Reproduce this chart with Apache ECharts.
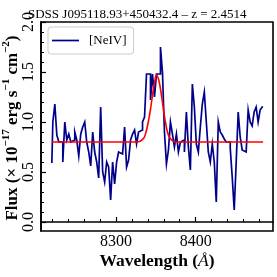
<!DOCTYPE html>
<html><head><meta charset="utf-8">
<script src="https://cdn.jsdelivr.net/npm/echarts@6/dist/echarts.min.js"></script>
<style>html,body{margin:0;padding:0;background:#fff}#c{width:277px;height:277px}</style>
</head><body><div id="c"></div>
<script>
const wavelength = [8219.6,8222.1,8224.6,8227.1,8229.6,8232.1,8234.6,8237.1,8239.6,8242.1,
8244.6,8247.1,8249.6,8252.1,8254.6,8257.1,8259.6,8262.1,8264.6,8267.1,
8269.6,8272.1,8274.6,8277.1,8279.6,8282.1,8284.6,8287.1,8289.6,8292.1,
8294.6,8297.1,8299.6,8302.1,8304.6,8307.1,8309.6,8312.1,8314.6,8317.1,
8319.6,8322.1,8324.6,8327.1,8329.6,8332.1,8334.6,8337.1,8339.6,8342.1,
8344.6,8347.1,8349.6,8352.1,8354.6,8357.1,8359.6,8362.1,8364.6,8367.1,
8369.6,8372.1,8374.6,8377.1,8379.6,8382.1,8384.6,8387.1,8389.6,8392.1,
8394.6,8397.1,8399.6,8402.1,8404.6,8407.1,8409.6,8412.1,8414.6,8417.1,
8419.6,8422.1,8424.6,8427.1,8429.6,8432.1,8434.6,8437.1,8439.6,8442.1,
8444.6,8447.1,8449.6,8452.1,8454.6,8457.1,8459.6,8462.1,8464.6,8467.1,
8469.6,8472.1,8474.6,8477.1,8479.6,8482.1,8484.6];
const flux = [0.59,1.0,1.18,0.87,0.8,0.8,0.6,1.0,0.82,0.88,
0.8,0.82,0.9,0.82,0.66,0.88,0.95,1.0,0.8,0.7,
0.56,0.9,0.7,0.6,0.44,1.15,0.5,0.4,0.6,0.55,
0.22,0.6,0.38,0.6,0.7,0.68,0.66,0.95,0.55,0.62,
0.82,0.88,0.92,0.78,0.9,0.92,1.0,1.05,1.48,1.48,
1.22,1.48,1.25,1.48,1.48,1.75,1.5,0.9,0.58,0.72,
1.0,0.88,0.75,0.88,0.7,0.8,0.82,0.7,1.1,0.75,
0.52,1.38,1.15,0.78,0.7,0.95,1.18,1.3,1.0,0.7,
0.6,0.78,0.6,0.2,1.0,0.9,0.87,0.83,0.8,0.8,
0.74,0.45,0.12,0.6,1.1,0.85,0.72,0.7,0.72,1.12,
1.0,0.96,1.1,1.15,1.0,1.12,1.15];
const fitWavelength = [8219.6,8326,8331,8335,8337,8339,8341,8343,8345,8347,8349,8350.8,8353,8355,8357,8359,8361,8363,8365,8367,8370,8375,8484.6];
const fitFlux = [0.8,0.8,0.81,0.84,0.88,0.94,1.02,1.11,1.22,1.33,1.42,1.47,1.44,1.37,1.27,1.16,1.05,0.96,0.89,0.85,0.82,0.8,0.8];
const xMajorTicks = [8300, 8400];
const xMinorTicks = [8220,8240,8260,8280,8320,8340,8360,8380,8420,8440,8460,8480];
const yMajorTicks = [0, 0.5, 1.0, 1.5, 2.0];
const yMinorTicks = [0.1,0.2,0.3,0.4,0.6,0.7,0.8,0.9,1.1,1.2,1.3,1.4,1.6,1.7,1.8,1.9];
const titleText = 'SDSS J095118.93+450432.4 – z = 2.4514';
const seriesName = '[NeIV]';

const SERIF = '"Liberation Serif", "DejaVu Serif", serif';
const X0 = 8206, X1 = 8497, Y0 = -0.09, Y1 = 2.0;

// steps-mid vertices (matplotlib drawstyle), built from the data arrays
const stepData = [];
for (let i = 0; i < wavelength.length; i++) {
  const left = i === 0 ? wavelength[0] : (wavelength[i - 1] + wavelength[i]) / 2;
  const right = i === wavelength.length - 1 ? wavelength[i] : (wavelength[i] + wavelength[i + 1]) / 2;
  stepData.push([left, flux[i]], [right, flux[i]]);
}

const chart = echarts.init(document.getElementById('c'), null, {renderer: 'canvas'});
const xBase = {type: 'value', min: X0, max: X1, gridIndex: 0, splitLine: {show: false}};
const yBase = {type: 'value', min: Y0, max: Y1, gridIndex: 0, splitLine: {show: false}};
chart.setOption({
  animation: false,
  backgroundColor: '#fff',
  title: {text: titleText, left: 23, top: 3,
    textStyle: {fontFamily: SERIF, fontSize: 13, fontWeight: 'normal', color: '#000'}},
  grid: {left: 41, top: 22, width: 232, height: 209, show: true, borderColor: '#000', borderWidth: 1.6, backgroundColor: 'transparent'},
  legend: {
    data: [{name: seriesName, icon: 'rect'}], left: 48, top: 27, orient: 'vertical',
    padding: [7, 7, 7, 4], borderColor: '#cccccc', borderWidth: 1, borderRadius: 3,
    backgroundColor: 'rgba(255,255,255,0.8)', itemWidth: 27, itemHeight: 1.7,
    textStyle: {fontFamily: SERIF, fontSize: 13, color: '#000', padding: [0, 0, 0, 5]}
  },
  xAxis: [
    Object.assign({}, xBase, {
      axisLine: {show: true, lineStyle: {color: '#000', width: 1.6}},
      axisTick: {show: true, inside: true, length: 5, customValues: xMajorTicks, lineStyle: {color: '#000', width: 1.2}},
      axisLabel: {show: true, customValues: xMajorTicks, margin: 3, color: '#000', fontFamily: SERIF, fontSize: 16,
        formatter: v => String(v)}
    }),
    Object.assign({}, xBase, {
      position: 'bottom',
      axisLine: {show: false},
      axisTick: {show: true, inside: true, length: 3, customValues: xMinorTicks, lineStyle: {color: '#000', width: 1}},
      axisLabel: {show: false}
    })
  ],
  yAxis: [
    Object.assign({}, yBase, {
      axisLine: {show: true, lineStyle: {color: '#000', width: 1.6}},
      axisTick: {show: true, inside: true, length: 5, customValues: yMajorTicks, lineStyle: {color: '#000', width: 1.2}},
      axisLabel: {show: true, customValues: yMajorTicks, rotate: 90, margin: 4, color: '#000', fontFamily: SERIF, fontSize: 16,
        formatter: v => v.toFixed(1)}
    }),
    Object.assign({}, yBase, {
      position: 'left',
      axisLine: {show: false},
      axisTick: {show: true, inside: true, length: 3, customValues: yMinorTicks, lineStyle: {color: '#000', width: 1}},
      axisLabel: {show: false}
    })
  ],
  series: [
    {name: seriesName, type: 'line', xAxisIndex: 0, yAxisIndex: 0,
      data: stepData, symbol: 'none', showSymbol: false,
      lineStyle: {color: '#00008B', width: 1.7, join: 'miter'}, itemStyle: {color: '#00008B'}, z: 2},
    {name: 'fit', type: 'line', smooth: 0.5, xAxisIndex: 0, yAxisIndex: 0,
      data: fitWavelength.map((w, i) => [w, fitFlux[i]]), symbol: 'none', showSymbol: false,
      lineStyle: {color: '#ff0000', width: 1.6}, itemStyle: {color: '#ff0000'}, z: 3}
  ],
  graphic: [
    {type: 'text', x: 11, y: 128, rotation: Math.PI / 2, z: 10,
      style: {
        text: '{b|Flux (× 10}{s|−17}{b| erg s}{s|−1}{b| cm}{s|−2}{b|)}',
        rich: {
          b: {fontFamily: SERIF, fontWeight: 'bold', fontSize: 17, lineHeight: 21, verticalAlign: 'bottom', fill: '#000'},
          s: {fontFamily: SERIF, fontWeight: 'bold', fontSize: 11, lineHeight: 12, verticalAlign: 'top', fill: '#000'}
        },
        align: 'center', verticalAlign: 'middle'
      }},
    {type: 'text', x: 157, y: 261, z: 10,
      style: {
        text: '{b|Wavelength (}{i|Å}{b|)}',
        rich: {
          b: {fontFamily: SERIF, fontWeight: 'bold', fontSize: 17.5, fill: '#000'},
          i: {fontFamily: SERIF, fontStyle: 'italic', fontWeight: 'normal', fontSize: 17.5, fill: '#000'}
        },
        align: 'center', verticalAlign: 'middle'
      }}
  ]
});
</script></body></html>
